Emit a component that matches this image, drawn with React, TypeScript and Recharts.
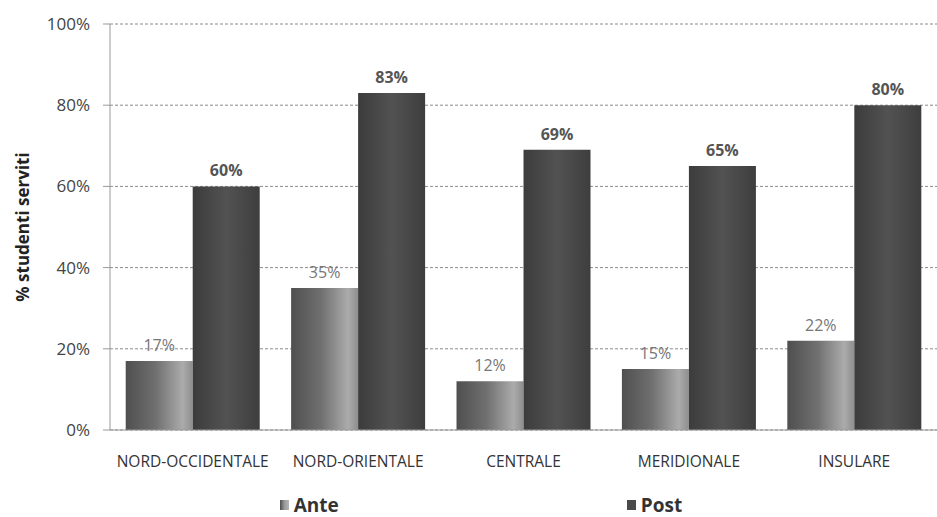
import { BarChart, Bar, XAxis, YAxis, CartesianGrid, Legend, LabelList } from "recharts"

const regions = ["NORD-OCCIDENTALE", "NORD-ORIENTALE", "CENTRALE", "MERIDIONALE", "INSULARE"]
const ante = [17, 35, 12, 15, 22]
const post = [60, 83, 69, 65, 80]
const yTicks = [0, 20, 40, 60, 80, 100]

const data = regions.map((r, i) => ({ region: r, ante: ante[i], post: post[i] }))

const FONT = "'Open Sans', sans-serif"

function LegendBox() {
  return (
    <div
      style={{
        display: "flex",
        justifyContent: "center",
        alignItems: "center",
        height: 24,
        lineHeight: "20px",
        paddingLeft: 25,
        gap: 288,
        fontFamily: FONT,
        fontWeight: 700,
        fontSize: 19,
        color: "#333",
      }}
    >
      <div style={{ display: "flex", alignItems: "center", gap: 5 }}>
        <span
          style={{
            width: 9,
            height: 10,
            display: "inline-block",
            background: "linear-gradient(to right, #4d4d4d, #9a9a9a, #b5b5b5)",
          }}
        />
        Ante
      </div>
      <div style={{ display: "flex", alignItems: "center", gap: 5 }}>
        <span style={{ width: 9, height: 10, display: "inline-block", background: "#4a4a4a" }} />
        Post
      </div>
    </div>
  )
}

export default function App() {
  return (
    <div style={{ width: 937, height: 517, background: "#fff" }}>
      <style>{`body{margin:0}`}</style>
      <BarChart
        width={937}
        height={517}
        data={data}
        margin={{ top: 24, right: 0, left: 0, bottom: 0 }}
        barCategoryGap="9.5%"
        barGap={0}
      >
        <defs>
          <linearGradient id="anteGrad" x1="0" y1="0" x2="1" y2="0">
            <stop offset="0%" stopColor="#4f4f4f" />
            <stop offset="45%" stopColor="#707070" />
            <stop offset="85%" stopColor="#ababab" />
            <stop offset="100%" stopColor="#8e8e8e" />
          </linearGradient>
          <linearGradient id="postGrad" x1="0" y1="0" x2="1" y2="0">
            <stop offset="0%" stopColor="#3c3c3c" />
            <stop offset="50%" stopColor="#525252" />
            <stop offset="100%" stopColor="#3e3e3e" />
          </linearGradient>
        </defs>
        <CartesianGrid vertical={false} stroke="#8a8a8a" strokeDasharray="3 2" />
        <XAxis
          dataKey="region"
          height={63}
          tickLine={false}
          axisLine={{ stroke: "#999" }}
          tick={{ fontFamily: FONT, fontSize: 15.5, fill: "#333" }}
          tickMargin={20}
        />
        <YAxis
          width={110}
          domain={[0, 100]}
          ticks={yTicks}
          tickFormatter={(v) => `${v}%`}
          axisLine={{ stroke: "#999" }}
          tickLine={{ stroke: "#999" }}
          tickSize={7}
          tickMargin={13}
          tick={{ fontFamily: FONT, fontSize: 17, fill: "#444" }}
          label={{
            value: "% studenti serviti",
            angle: -90,
            position: "insideLeft",
            dx: 18,
            style: { fontFamily: FONT, fontSize: 17, fontWeight: 700, fill: "#222", textAnchor: "middle" },
          }}
        />
        <Legend verticalAlign="bottom" content={<LegendBox />} wrapperStyle={{ bottom: 0 }} />
        <Bar dataKey="ante" name="Ante" fill="url(#anteGrad)" isAnimationActive={false}>
          <LabelList
            dataKey="ante"
            position="top"
            offset={10}
            formatter={(v: any) => `${v}%`}
            style={{ fontFamily: FONT, fontSize: 16, fill: "#777" }}
          />
        </Bar>
        <Bar dataKey="post" name="Post" fill="url(#postGrad)" isAnimationActive={false}>
          <LabelList
            dataKey="post"
            position="top"
            offset={10}
            formatter={(v: any) => `${v}%`}
            style={{ fontFamily: FONT, fontSize: 16, fontWeight: 700, fill: "#555" }}
          />
        </Bar>
      </BarChart>
    </div>
  )
}
